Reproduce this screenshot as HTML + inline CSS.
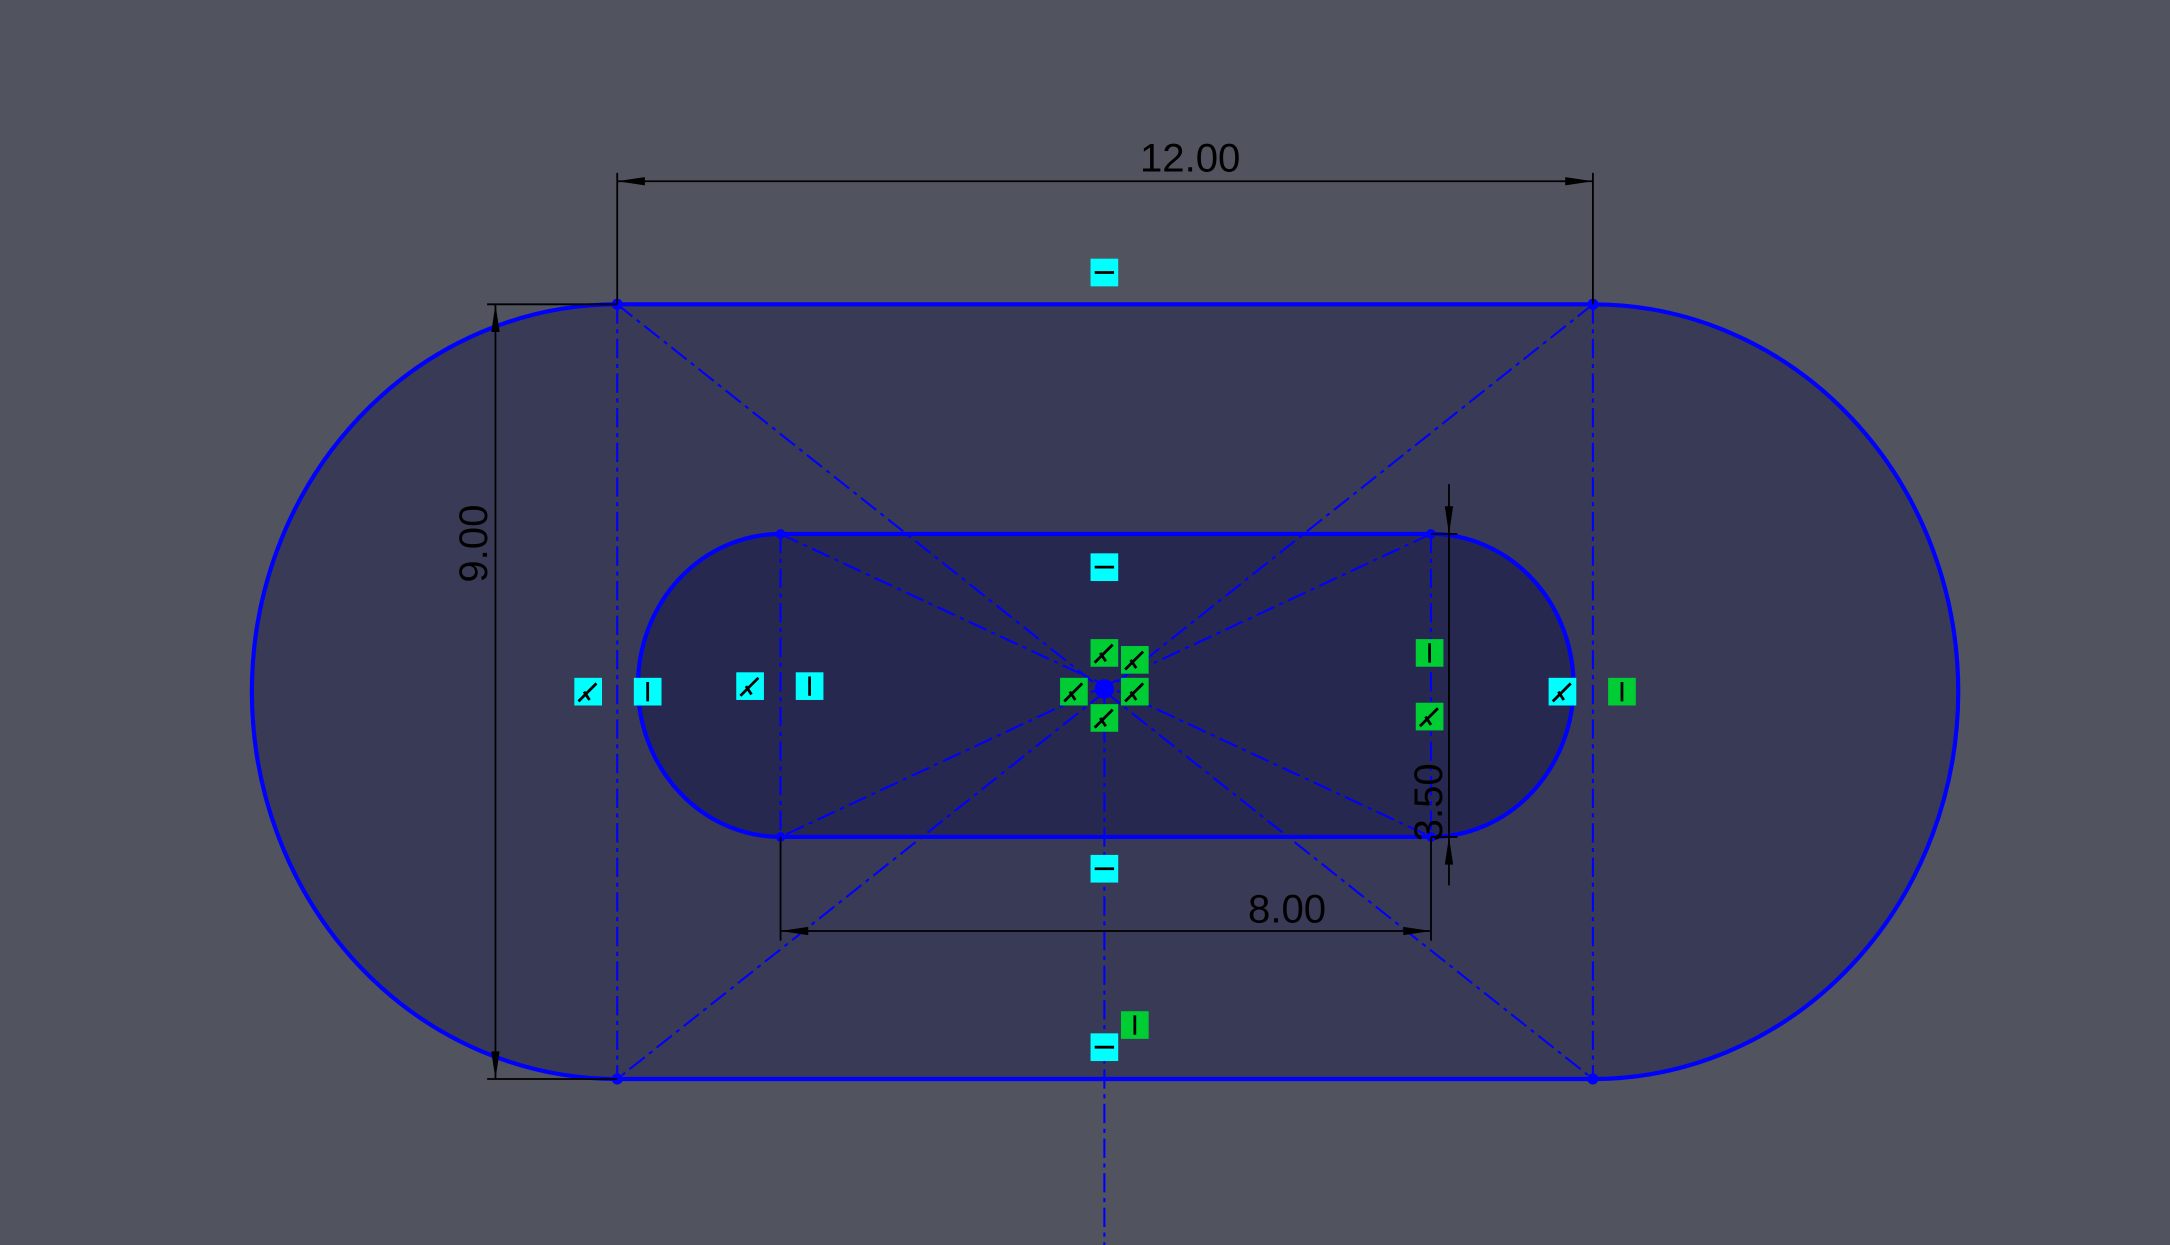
<!DOCTYPE html>
<html><head><meta charset="utf-8"><style>
html,body{margin:0;padding:0;background:#51535f;}
svg{display:block}
text{font-family:"Liberation Sans",sans-serif;font-size:29px;fill:#000}
</style></head><body>
<svg width="2170" height="1245" viewBox="0 0 1568 900" preserveAspectRatio="none" xmlns="http://www.w3.org/2000/svg">
<rect width="1568" height="900" fill="#51535f"/>
<path d="M446,220 L1151,220 A264,280 0 0 1 1151,780 L446,780 A264,280 0 0 1 446,220 Z" fill="#393a55" stroke="#0000ff" stroke-width="3"/>
<path d="M564,386 L1034,386 A103,109.5 0 0 1 1034,605 L564,605 A103,109.5 0 0 1 564,386 Z" fill="#262850" stroke="#0000ff" stroke-width="3"/>
<g stroke="#0000ff" stroke-width="1.5" stroke-dasharray="14,4,3,4" fill="none">
<line x1="446" y1="220" x2="446" y2="780"/><line x1="1151" y1="220" x2="1151" y2="780"/>
<line x1="564" y1="386" x2="564" y2="605"/><line x1="1034" y1="386" x2="1034" y2="605"/>
<line x1="798" y1="498" x2="798" y2="900"/>
<line x1="446" y1="220" x2="1151" y2="780"/><line x1="1151" y1="220" x2="446" y2="780"/>
<line x1="564" y1="386" x2="1034" y2="605"/><line x1="1034" y1="386" x2="564" y2="605"/>
</g>
<g fill="#0000ff">
<circle cx="446" cy="220" r="4"/><circle cx="1151" cy="220" r="4"/><circle cx="446" cy="780" r="4"/><circle cx="1151" cy="780" r="4"/>
<circle cx="564" cy="386" r="3.5"/><circle cx="1034" cy="386" r="3.5"/><circle cx="564" cy="605" r="3.5"/><circle cx="1034" cy="605" r="3.5"/>
<circle cx="798" cy="498" r="7"/>
</g>
<g stroke="#000" stroke-width="1.3" fill="none">
<line x1="446" y1="125" x2="446" y2="220"/><line x1="1151" y1="125" x2="1151" y2="220"/><line x1="446" y1="131" x2="1151" y2="131"/>
<line x1="352" y1="220" x2="446" y2="220"/><line x1="352" y1="780" x2="446" y2="780"/><line x1="358" y1="220" x2="358" y2="780"/>
<line x1="564" y1="605" x2="564" y2="680"/><line x1="1034" y1="605" x2="1034" y2="680"/><line x1="564" y1="673" x2="1034" y2="673"/>
<line x1="1034" y1="386" x2="1053" y2="386"/><line x1="1034" y1="605" x2="1053" y2="605"/><line x1="1047" y1="350" x2="1047" y2="640"/>
</g>
<g fill="#000">
<polygon points="446,131 466,128 466,134"/><polygon points="1151,131 1131,128 1131,134"/>
<polygon points="358,220 355,240 361,240"/><polygon points="358,780 355,760 361,760"/>
<polygon points="564,673 584,670 584,676"/><polygon points="1034,673 1014,670 1014,676"/>
<polygon points="1047,386 1044,366 1050,366"/><polygon points="1047,605 1044,625 1050,625"/>
</g>
<text x="860" y="124" text-anchor="middle">12.00</text>
<text x="0" y="0" text-anchor="middle" transform="translate(352,393) rotate(-90)">9.00</text>
<text x="930" y="667" text-anchor="middle">8.00</text>
<text x="0" y="0" text-anchor="middle" transform="translate(1042,580) rotate(-90)">3.50</text>
<g id="icons"></g>
</svg>
<script>
const iconX=[798,798,798,798,425,468,542,585,1033,1033,1129,1172,798,820,776,820,798,820];
const iconY=[197,410,628,757,500,500,496,496,472,518,500,500,472,477,500,500,519,741];
const iconType=['h','h','h','h','m','v','m','v','v','m','m','v','m','m','m','m','m','v'];
const iconColor=['c','c','c','c','c','c','c','c','g','g','c','g','g','g','g','g','g','g'];
const g=document.getElementById('icons');
const ns='http://www.w3.org/2000/svg';
for(let i=0;i<iconX.length;i++){
  const x=iconX[i],y=iconY[i];
  const r=document.createElementNS(ns,'rect');
  
  
  r.setAttribute('x',x-10);r.setAttribute('y',y-10);r.setAttribute('width',20);r.setAttribute('height',20);
  r.setAttribute('fill',iconColor[i]==='c'?'#00ffff':'#00cc33');
  g.appendChild(r);
  const p=document.createElementNS(ns,'path');
  
  
  let d;
  if(iconType[i]==='h')d=`M${x-7},${y} L${x+7},${y}`;
  else if(iconType[i]==='v')d=`M${x},${y-7} L${x},${y+7}`;
  else d=`M${x-7},${y+7} L${x+6},${y-6} M${x-3},${y} L${x+1},${y+6}`;
  p.setAttribute('d',d);p.setAttribute('stroke','#000');p.setAttribute('stroke-width','2');p.setAttribute('fill','none');
  g.appendChild(p);
}
</script>
</body></html>
